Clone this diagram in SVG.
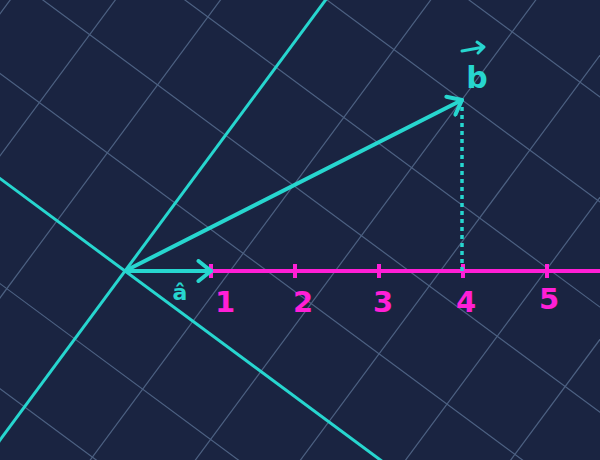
<svg xmlns="http://www.w3.org/2000/svg" width="600" height="460" viewBox="0 0 600 460">
<defs>
<style>
.grid line{stroke:#4d6182;stroke-width:1.2}
.axis{stroke:#27d6cf;stroke-width:3;fill:none}
.vec{stroke:#27d6cf;stroke-width:4;fill:none;stroke-linecap:round}
.mag{stroke:#ff1fd6;stroke-width:4;fill:none}
.num{fill:#ff1fd6;font-family:"DejaVu Sans",sans-serif;font-size:29px;font-weight:bold;text-anchor:middle}
.lbl{fill:#27d6cf;font-family:"DejaVu Sans",sans-serif;font-weight:bold;text-anchor:middle}
</style>
<marker id="chev" markerUnits="userSpaceOnUse" viewBox="-16 -12 20 24" refX="0" refY="0" markerWidth="20" markerHeight="24" orient="auto">
<path d="M -12.5 -10 L 0 0 L -12.5 10" fill="none" stroke="#27d6cf" stroke-width="4" stroke-linecap="round" stroke-linejoin="round"/>
</marker>
</defs>
<rect width="600" height="460" fill="#1a2441"/>
<g id="grid" class="grid" transform="translate(125,271) rotate(36.5)">
<line x1="-676" y1="-800" x2="-676" y2="800"/>
<line x1="-591.5" y1="-800" x2="-591.5" y2="800"/>
<line x1="-507" y1="-800" x2="-507" y2="800"/>
<line x1="-422.5" y1="-800" x2="-422.5" y2="800"/>
<line x1="-338" y1="-800" x2="-338" y2="800"/>
<line x1="-253.5" y1="-800" x2="-253.5" y2="800"/>
<line x1="-169" y1="-800" x2="-169" y2="800"/>
<line x1="-84.5" y1="-800" x2="-84.5" y2="800"/>
<line x1="84.5" y1="-800" x2="84.5" y2="800"/>
<line x1="169" y1="-800" x2="169" y2="800"/>
<line x1="253.5" y1="-800" x2="253.5" y2="800"/>
<line x1="338" y1="-800" x2="338" y2="800"/>
<line x1="422.5" y1="-800" x2="422.5" y2="800"/>
<line x1="507" y1="-800" x2="507" y2="800"/>
<line x1="591.5" y1="-800" x2="591.5" y2="800"/>
<line x1="676" y1="-800" x2="676" y2="800"/>
<line y1="-676" x1="-800" y2="-676" x2="800"/>
<line y1="-591.5" x1="-800" y2="-591.5" x2="800"/>
<line y1="-507" x1="-800" y2="-507" x2="800"/>
<line y1="-422.5" x1="-800" y2="-422.5" x2="800"/>
<line y1="-338" x1="-800" y2="-338" x2="800"/>
<line y1="-253.5" x1="-800" y2="-253.5" x2="800"/>
<line y1="-169" x1="-800" y2="-169" x2="800"/>
<line y1="-84.5" x1="-800" y2="-84.5" x2="800"/>
<line y1="84.5" x1="-800" y2="84.5" x2="800"/>
<line y1="169" x1="-800" y2="169" x2="800"/>
<line y1="253.5" x1="-800" y2="253.5" x2="800"/>
<line y1="338" x1="-800" y2="338" x2="800"/>
<line y1="422.5" x1="-800" y2="422.5" x2="800"/>
<line y1="507" x1="-800" y2="507" x2="800"/>
<line y1="591.5" x1="-800" y2="591.5" x2="800"/>
<line y1="676" x1="-800" y2="676" x2="800"/>
</g>
<g id="connectors">
<line id="axis-down" class="axis" x1="-35.8" y1="152" x2="446.6" y2="509"/>
<line id="axis-up" class="axis" x1="-53.5" y1="512.2" x2="363" y2="-50.6"/>
<line id="number-line" class="mag" x1="211" y1="271" x2="600" y2="271"/>
<g class="mag" stroke-width="3">
<line x1="211" y1="264" x2="211" y2="278"/>
<line x1="295" y1="264" x2="295" y2="278"/>
<line x1="379" y1="264" x2="379" y2="278"/>
<line x1="463" y1="264" x2="463" y2="278"/>
<line x1="547" y1="264" x2="547" y2="278"/>
</g>
<line id="proj" x1="462" y1="107" x2="462" y2="271" stroke="#27d6cf" stroke-width="3.5" stroke-dasharray="4 4"/>
<line id="a-hat" class="vec" x1="125" y1="271" x2="211" y2="271" marker-end="url(#chev)"/>
<line id="b-vec" class="vec" x1="125" y1="271" x2="462" y2="100" marker-end="url(#chev)"/>
</g>
<g id="label-b">
<text class="lbl" x="477" y="88" font-size="30">b</text>
<path d="M 462 51 L 484 47 M 477 42 L 484 47 L 478 53" fill="none" stroke="#27d6cf" stroke-width="3" stroke-linecap="round" stroke-linejoin="round"/>
</g>
<g id="label-a"><text class="lbl" x="180" y="300" font-size="22">â</text></g>
<g id="ticks-labels">
<text class="num" x="225" y="312">1</text>
<text class="num" x="303" y="312">2</text>
<text class="num" x="383" y="312">3</text>
<text class="num" x="466" y="312">4</text>
<text class="num" x="549" y="309">5</text>
</g>
</svg>
